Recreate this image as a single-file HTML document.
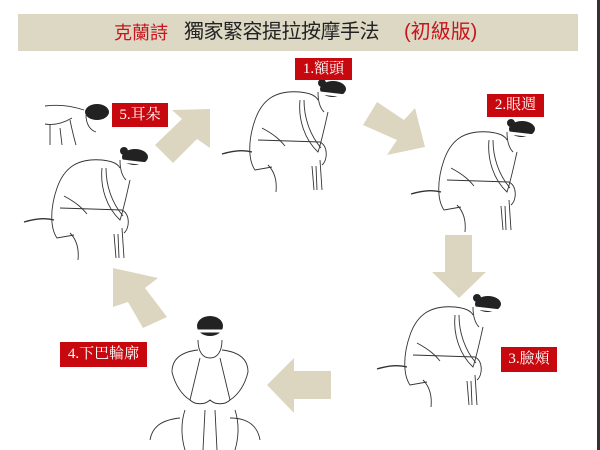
<!DOCTYPE html>
<html><head><meta charset="utf-8"><style>
html,body{margin:0;padding:0;background:#fff;}
#c{position:relative;width:600px;height:450px;overflow:hidden;background:#fff;}
.bar{position:absolute;left:18px;top:14px;width:560px;height:37px;background:#dcd8c4;}
.t{position:absolute;top:19px;font-family:"Liberation Sans","Noto Sans CJK TC",sans-serif;line-height:26px;white-space:nowrap;}
.lab{position:absolute;background:#c8080f;color:#fff;font-family:"Liberation Serif","Noto Serif CJK SC",serif;font-size:15px;text-align:center;white-space:nowrap;}
svg{position:absolute;left:0;top:0;}
</style></head><body><div id="c">
<div class="bar"></div>
<div class="t" style="left:114px;color:#c8141c;font-size:18px;top:20px;">克蘭詩</div>
<div class="t" style="left:184px;color:#222;font-size:20px;letter-spacing:-0.5px;">獨家緊容提拉按摩手法</div>
<div class="t" style="left:404px;color:#c8141c;font-size:20px;">(初級版)</div>

<svg width="600" height="450" viewBox="0 0 600 450">
<g fill="#dcd6c0">
<polygon points="377,102 404,120 415,108 425,147 387,155 397,140 363,125"/>
<polygon points="445,235 472,235 472,272 486,272 459,298 432,272 445,272"/>
<polygon points="331,371 331,399 294,399 294,413 267,385 294,358 294,371"/>
<polygon points="167,317 143,328 128,302 113,307 113,268 158,278 145,288"/>
<polygon points="155,145 173,163 197,139 210,148 210,109 172,110 182,119"/>
</g>
<defs>
<g id="fig" fill="none" stroke="#333" stroke-width="0.9">
<path d="M300,92 C275,90 262,100 255,120 C248,140 248,160 255,170 L272,167"/>
<path d="M300,92 C310,93 316,96 318,100"/>
<path d="M318,92 C318,102 320,108 324,112"/>
<path d="M300,100 C298,120 305,140 318,152 C322,140 325,125 328,112"/>
<path d="M304,100 C304,118 310,135 321,148"/>
<path d="M258,140 L320,142 C328,146 328,160 322,165"/>
<path d="M320,160 L322,190 M312,166 L314,190 M316,166 L317,190"/>
<path d="M262,128 C275,135 280,140 285,146"/>
<path d="M268,165 C275,172 277,182 276,192"/>
<path d="M222,154 C235,150 245,150 252,152" stroke-width="1.4"/>
<ellipse cx="333" cy="89" rx="13" ry="8" fill="#222" stroke="none"/>
<circle cx="322" cy="83" r="4" fill="#222" stroke="none"/>
<path d="M320,93 L346,96" stroke="#fff" stroke-width="3"/>
</g>
</defs>
<use href="#fig"/>
<use href="#fig" transform="translate(189,40)"/>
<use href="#fig" transform="translate(155,215)"/>
<use href="#fig" transform="translate(-198,68)"/>
<g fill="none" stroke="#333" stroke-width="0.9">
<path d="M45,106 C60,104 72,106 84,110 M45,124 C55,126 65,122 72,118 M50,125 L50,145 M60,128 L62,145 M70,120 C72,130 74,138 76,145"/>
<ellipse cx="97" cy="112" rx="12" ry="8" fill="#222" stroke="none"/>
<path d="M86,115 C86,124 90,130 96,132"/>
<path d="M180,418 C160,420 152,428 150,440 M230,418 C250,418 258,428 260,440"/>
<path d="M198,340 C198,352 203,358 210,358 C217,358 222,352 222,340"/>
<path d="M198,350 C180,352 172,360 172,372 C175,385 182,395 190,400 L200,358"/>
<path d="M222,350 C240,352 248,360 248,372 C245,385 238,395 230,400 L220,358"/>
<path d="M190,400 C195,405 205,405 210,400 C215,405 225,405 230,400"/>
<path d="M185,410 C180,425 182,440 185,450 M235,410 C240,425 238,440 235,450 M205,410 L203,450 M215,410 L217,450"/>
<ellipse cx="210" cy="326" rx="13" ry="10" fill="#222" stroke="none"/>
<path d="M197,331 L223,331" stroke="#fff" stroke-width="3"/>
</g>
</svg>
<div class="lab" style="left:295px;top:58px;width:57px;height:22px;line-height:22px;">1.額頭</div>
<div class="lab" style="left:487px;top:94px;width:57px;height:23px;line-height:23px;">2.眼週</div>
<div class="lab" style="left:501px;top:347px;width:56px;height:25px;line-height:25px;">3.臉頰</div>
<div class="lab" style="left:60px;top:342px;width:87px;height:25px;line-height:25px;">4.下巴輪廓</div>
<div class="lab" style="left:112px;top:103px;width:56px;height:24px;line-height:24px;">5.耳朵</div>
<div style="position:absolute;left:597px;top:0;width:3px;height:450px;background:#333;"></div>
</div></body></html>
